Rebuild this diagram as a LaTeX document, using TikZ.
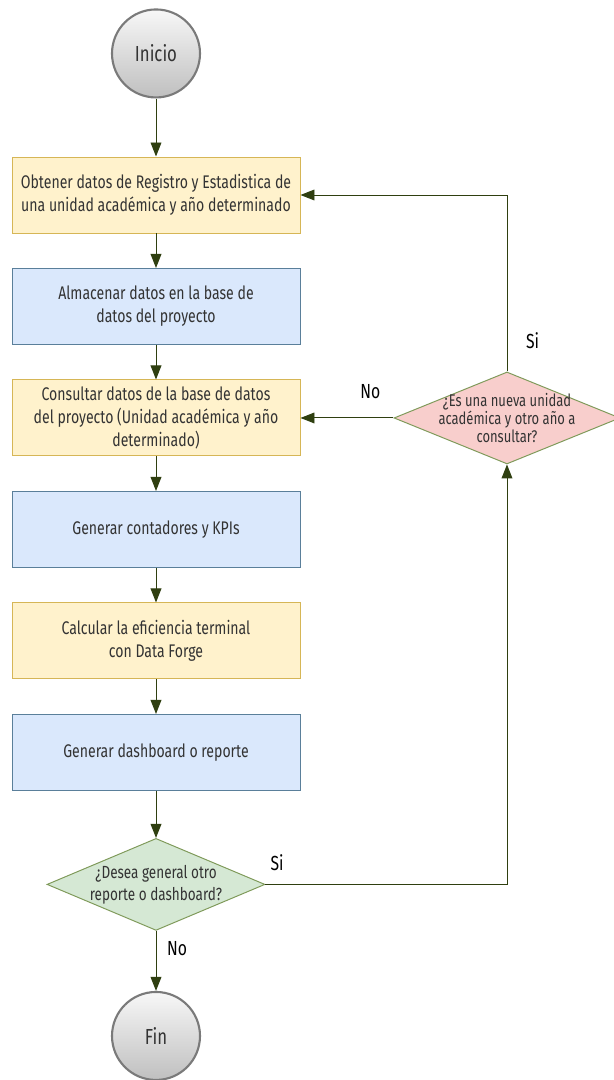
\documentclass[tikz,border=0pt]{standalone}
\usepackage{fontspec}
\setmainfont{Fira Sans}[FakeStretch=0.77]
\usetikzlibrary{positioning, shapes.geometric, arrows.meta}
\definecolor{linkcol}{HTML}{2F3F10}
\definecolor{textcol}{HTML}{333333}
\definecolor{yelfill}{HTML}{FFF2CC}
\definecolor{yelline}{HTML}{D6B656}
\definecolor{bluefill}{HTML}{DAE8FC}
\definecolor{blueline}{HTML}{5A7F9A}
\definecolor{redfill}{HTML}{F8CECC}
\definecolor{greenfill}{HTML}{D5E8D4}
\definecolor{greenline}{HTML}{7F9A5A}
\definecolor{termline}{HTML}{7A7A7A}
\tikzset{
	box/.style={draw, rectangle, line width=0.7pt, inner sep=2pt, minimum width=7.2cm, minimum height=1.9cm, align=center, text=textcol, font=\fontsize{13}{16.4}\selectfont},
	stepyellow/.style={box, draw=yelline, fill=yelfill},
	stepblue/.style={box, draw=blueline, fill=bluefill},
	question/.style={diamond, draw=greenline, line width=0.7pt, inner sep=0pt},
	qtext/.style={align=center, text=textcol},
	terminal/.style={circle, draw=termline, line width=1.5pt, top color=black!3, bottom color=black!25, minimum size=2.2cm, text=textcol, font=\fontsize{15.5}{18}\selectfont},
	% yes / no labels on the links
	lbl/.style={text=black, font=\fontsize{14.5}{17}\selectfont},
}

\begin{document}
\begin{tikzpicture}
	\useasboundingbox (0,0) rectangle (15.325,-27);

	\node (b1) [stepyellow] at (3.9,-4.875) {Obtener datos de Registro y Estadistica de\\una unidad académica y año determinado};
	\node (start) [terminal, above=1.45cm of b1] {Inicio};
	\node (b2) [stepblue, below=0.8625cm of b1] {Almacenar datos en la base de\\datos del proyecto};
	\node (b3) [stepyellow, below=0.8625cm of b2] {Consultar datos de la base de datos\\del proyecto (Unidad académica y año\\determinado)};
	\node (b4) [stepblue, below=0.8625cm of b3] {Generar contadores y KPIs};
	\node (b5) [stepyellow, below=0.8625cm of b4] {Calcular la eficiencia terminal\\con Data Forge};
	\node (b6) [stepblue, below=0.8625cm of b5] {Generar dashboard o reporte};

	\node (q2) [question, fill=greenfill, minimum width=5.45cm, minimum height=2.3cm, below=1.175cm of b6,
		label={[qtext, font=\fontsize{12.5}{15.5}\selectfont]center:{¿Desea general otro\\reporte o dashboard?}}] {};
	\node (stop) [terminal, below=1.5cm of q2] {Fin};

	\node (q1) [question, fill=redfill, minimum width=5.65cm, minimum height=2.3cm, right=2.325cm of b3,
		label={[qtext, font=\fontsize{12}{12.8}\selectfont]center:{¿Es una nueva unidad\\académica y otro año a\\consultar?}}] {};

	\begin{scope}[linkcol, line width=0.7pt, -{Triangle[length=0.35cm, width=0.27cm]}]
		\draw (start) -- (b1);
		\draw (b1) -- (b2);
		\draw (b2) -- (b3);
		\draw (b3) -- (b4);
		\draw (b4) -- (b5);
		\draw (b5) -- (b6);
		\draw (b6) -- (q2);
		\draw (q2) -- node [lbl, pos=0.3, right, xshift=0.15cm] {No} (stop);
		\draw (q2.east) -| node [lbl, pos=0, above right, yshift=0.2cm] {Si} (q1.south);
		\draw (q1.west) -- node [lbl, pos=0.25, above, yshift=0.35cm] {No} (b3.east);
		\draw (q1.north) |- node [lbl, pos=0.07, right, xshift=0.35cm, yshift=0.15cm] {Si} (b1.east);
	\end{scope}

\end{tikzpicture}
\end{document}
